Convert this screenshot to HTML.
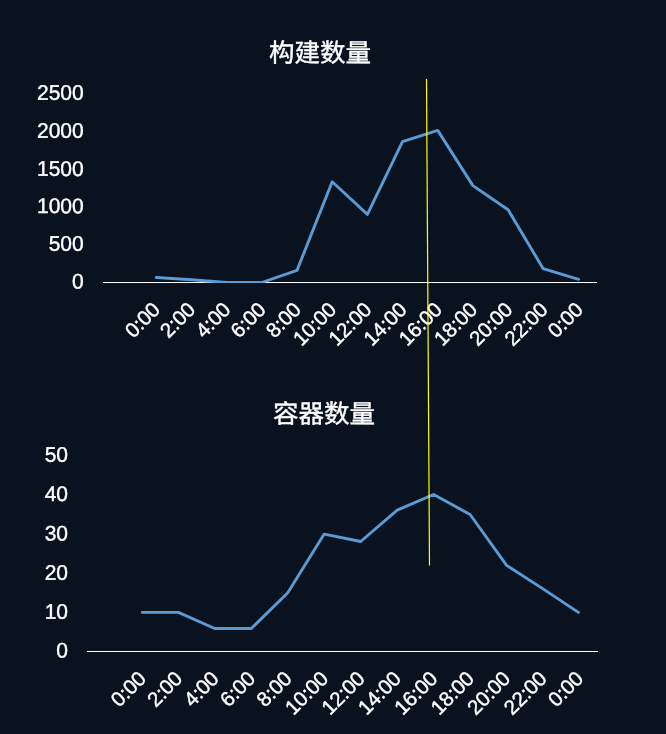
<!DOCTYPE html>
<html lang="zh-CN">
<head>
<meta charset="utf-8">
<title>构建数量 / 容器数量</title>
<style>
html,body{margin:0;padding:0;background:#0b121f;}
body{width:666px;height:734px;overflow:hidden;}
svg{display:block;}
text{font-family:"Liberation Sans", "Noto Sans CJK SC", sans-serif;fill:#ffffff;stroke:#ffffff;stroke-width:0.4px;}
.title{font-size:25.5px;}
.ylab{font-size:21px;letter-spacing:0px;}
.xlab{font-size:20.6px;letter-spacing:-0.15px;}
.axis{stroke:#ffffff;stroke-width:1;}
.series{fill:none;stroke:#5b9bd5;stroke-width:2.9;stroke-linejoin:round;stroke-linecap:round;}
.mark{stroke:#ffff00;stroke-width:1.2;}
</style>
</head>
<body>
<svg width="666" height="734" viewBox="0 0 666 734">
<defs><clipPath id="plotclip"><rect x="0" y="0" width="666" height="283"/><rect x="0" y="400" width="666" height="252"/></clipPath></defs>
<rect x="0" y="0" width="666" height="734" fill="#0b121f"/>
<g class="chart">
<text class="title" text-anchor="middle" transform="translate(320,61.7) rotate(0.05)">构建数量</text>
<text class="ylab" text-anchor="end" transform="translate(83.7,288.55) rotate(0.05)">0</text>
<text class="ylab" text-anchor="end" transform="translate(83.7,250.85) rotate(0.05)">500</text>
<text class="ylab" text-anchor="end" transform="translate(83.7,213.15) rotate(0.05)">1000</text>
<text class="ylab" text-anchor="end" transform="translate(83.7,175.9) rotate(0.05)">1500</text>
<text class="ylab" text-anchor="end" transform="translate(83.7,137.8) rotate(0.05)">2000</text>
<text class="ylab" text-anchor="end" transform="translate(83.7,99.8) rotate(0.05)">2500</text>
<line x1="103" y1="282.5" x2="597" y2="282.5" class="axis"/>
<polyline class="series" clip-path="url(#plotclip)" points="156.3,277.5 191.5,279.8 226.7,282.5 261.8,282.5 297.0,270.4 332.2,181.8 367.4,214.4 402.5,141.7 437.7,130.4 472.9,185.6 508.1,209.8 543.2,268.7 578.6,279.3"/>
<text class="xlab" text-anchor="end" transform="translate(161.3,311.0) rotate(-45)">0:00</text>
<text class="xlab" text-anchor="end" transform="translate(196.5,311.0) rotate(-45)">2:00</text>
<text class="xlab" text-anchor="end" transform="translate(231.8,311.0) rotate(-45)">4:00</text>
<text class="xlab" text-anchor="end" transform="translate(267.0,311.0) rotate(-45)">6:00</text>
<text class="xlab" text-anchor="end" transform="translate(302.3,311.0) rotate(-45)">8:00</text>
<text class="xlab" text-anchor="end" transform="translate(337.5,311.0) rotate(-45)">10:00</text>
<text class="xlab" text-anchor="end" transform="translate(372.8,311.0) rotate(-45)">12:00</text>
<text class="xlab" text-anchor="end" transform="translate(408.0,311.0) rotate(-45)">14:00</text>
<text class="xlab" text-anchor="end" transform="translate(443.2,311.0) rotate(-45)">16:00</text>
<text class="xlab" text-anchor="end" transform="translate(478.5,311.0) rotate(-45)">18:00</text>
<text class="xlab" text-anchor="end" transform="translate(513.7,311.0) rotate(-45)">20:00</text>
<text class="xlab" text-anchor="end" transform="translate(549.0,311.0) rotate(-45)">22:00</text>
<text class="xlab" text-anchor="end" transform="translate(584.2,311.0) rotate(-45)">0:00</text>
</g>
<g class="chart">
<text class="title" text-anchor="middle" transform="translate(324,422.7) rotate(0.05)">容器数量</text>
<text class="ylab" text-anchor="end" transform="translate(68.0,657.6) rotate(0.05)">0</text>
<text class="ylab" text-anchor="end" transform="translate(68.0,618.7) rotate(0.05)">10</text>
<text class="ylab" text-anchor="end" transform="translate(68.0,579.7) rotate(0.05)">20</text>
<text class="ylab" text-anchor="end" transform="translate(68.0,540.6) rotate(0.05)">30</text>
<text class="ylab" text-anchor="end" transform="translate(68.0,500.9) rotate(0.05)">40</text>
<text class="ylab" text-anchor="end" transform="translate(68.0,461.8) rotate(0.05)">50</text>
<line x1="87" y1="651.5" x2="598" y2="651.5" class="axis"/>
<polyline class="series" clip-path="url(#plotclip)" points="142.3,612.4 178.4,612.4 214.8,628.5 251.3,628.5 287.8,592.8 324.2,534.1 360.7,541.5 397.2,510.2 433.6,494.5 470.1,514.5 506.6,565.4 543.0,588.9 578.4,612.4"/>
<text class="xlab" text-anchor="end" transform="translate(147.2,680.0) rotate(-45)">0:00</text>
<text class="xlab" text-anchor="end" transform="translate(183.6,680.0) rotate(-45)">2:00</text>
<text class="xlab" text-anchor="end" transform="translate(220.1,680.0) rotate(-45)">4:00</text>
<text class="xlab" text-anchor="end" transform="translate(256.5,680.0) rotate(-45)">6:00</text>
<text class="xlab" text-anchor="end" transform="translate(293.0,680.0) rotate(-45)">8:00</text>
<text class="xlab" text-anchor="end" transform="translate(329.4,680.0) rotate(-45)">10:00</text>
<text class="xlab" text-anchor="end" transform="translate(365.9,680.0) rotate(-45)">12:00</text>
<text class="xlab" text-anchor="end" transform="translate(402.3,680.0) rotate(-45)">14:00</text>
<text class="xlab" text-anchor="end" transform="translate(438.7,680.0) rotate(-45)">16:00</text>
<text class="xlab" text-anchor="end" transform="translate(475.2,680.0) rotate(-45)">18:00</text>
<text class="xlab" text-anchor="end" transform="translate(511.6,680.0) rotate(-45)">20:00</text>
<text class="xlab" text-anchor="end" transform="translate(548.1,680.0) rotate(-45)">22:00</text>
<text class="xlab" text-anchor="end" transform="translate(584.5,680.0) rotate(-45)">0:00</text>
</g>
<line class="mark" x1="426.5" y1="79" x2="429.5" y2="565.5"/>
</svg>
</body>
</html>
